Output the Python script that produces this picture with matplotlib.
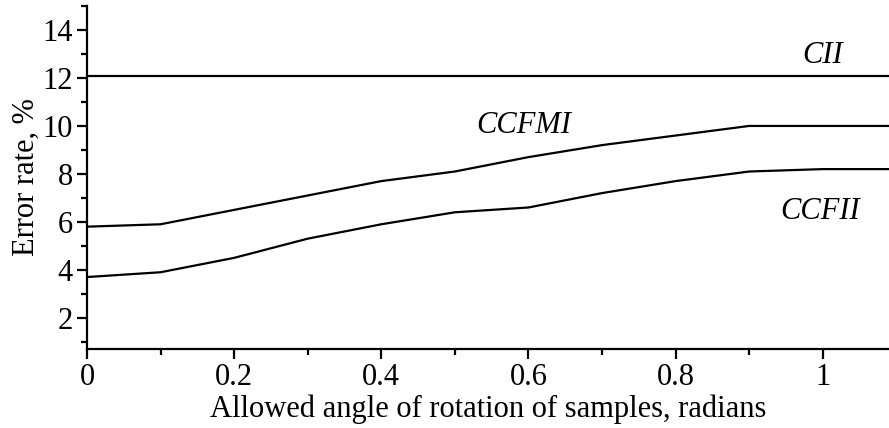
import matplotlib.pyplot as plt
from matplotlib.ticker import MultipleLocator

# Error rate vs. allowed rotation angle for three classifiers
angle = [0.0, 0.1, 0.2, 0.3, 0.4, 0.5, 0.6, 0.7, 0.8, 0.9, 1.0, 1.1]
cii = [12.1] * len(angle)
ccfmi = [5.8, 5.9, 6.5, 7.1, 7.7, 8.1, 8.7, 9.2, 9.6, 10.0, 10.0, 10.0]
ccfii = [3.7, 3.9, 4.5, 5.3, 5.9, 6.4, 6.6, 7.2, 7.7, 8.1, 8.2, 8.2]

plt.rcParams["font.family"] = ["Liberation Serif", "DejaVu Serif"]
FS = 22

fig = plt.figure(figsize=(8.89, 4.28), dpi=100)
ax = fig.add_axes([87 / 889, 1 - 349 / 428, 802 / 889, 343 / 428])

for series in (cii, ccfmi, ccfii):
    ax.plot(angle, series, color="black", lw=1.6)

ax.set_xlim(0, 1.09)
ax.set_ylim(0.7, 15)

for side in ("top", "right"):
    ax.spines[side].set_visible(False)
for side in ("left", "bottom"):
    ax.spines[side].set_linewidth(1.6)

ax.xaxis.set_major_locator(MultipleLocator(0.2))
ax.xaxis.set_minor_locator(MultipleLocator(0.1))
ax.yaxis.set_major_locator(MultipleLocator(2))
ax.yaxis.set_minor_locator(MultipleLocator(1))
ax.xaxis.set_major_formatter(lambda v, p: f"{v:g}")
ax.yaxis.set_major_formatter(lambda v, p: f"{v:g}")
ax.set_yticks([2, 4, 6, 8, 10, 12, 14])

ax.tick_params(which="major", direction="out", length=7, width=1.6, labelsize=FS, pad=3)
ax.tick_params(which="minor", direction="out", length=4, width=1.6)

ax.set_xlabel("Allowed angle of rotation of samples, radians", fontsize=FS, labelpad=2)
ax.set_ylabel("Error rate, %", fontsize=FS, labelpad=1)

ax.text(1.0, 12.95, "CII", fontsize=FS, style="italic", ha="center", va="center")
ax.text(0.594, 10.0, "CCFMI", fontsize=FS, style="italic", ha="center", va="center")
ax.text(0.996, 6.42, "CCFII", fontsize=FS, style="italic", ha="center", va="center")

fig.savefig("out.png", dpi=100)
